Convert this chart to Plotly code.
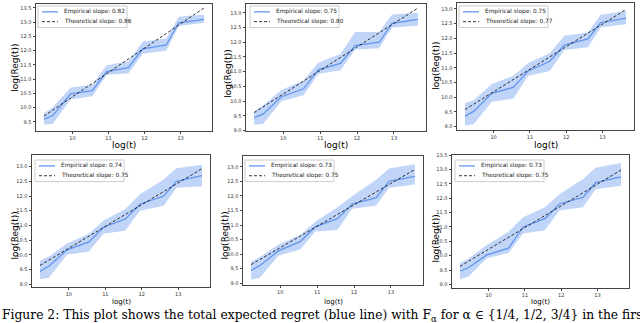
import plotly.graph_objects as go

# log(t) grid shared by all six panels
log_t = [9.21, 9.45, 9.95, 10.55, 10.95, 11.55, 11.95, 12.6, 12.95, 13.65]
theo_x = [9.21, 13.65]

# empirical mean, lower / upper band, theoretical line end points
emp_1 = [9.59, 9.71, 10.48, 10.59, 11.26, 11.40, 12.06, 12.20, 12.98, 13.10]
lo_1 = [9.40, 9.42, 10.28, 10.40, 11.15, 11.20, 11.89, 12.00, 12.87, 12.98]
hi_1 = [9.79, 10.00, 10.70, 10.80, 11.49, 11.63, 12.32, 12.43, 13.19, 13.27]
theo_1 = [9.70, 13.50]

emp_2 = [9.44, 9.56, 10.15, 10.42, 11.06, 11.28, 11.89, 12.00, 12.64, 12.78]
lo_2 = [9.20, 9.22, 10.00, 10.20, 10.92, 11.05, 11.75, 11.80, 12.50, 12.56]
hi_2 = [9.66, 9.85, 10.38, 10.70, 11.30, 11.60, 12.35, 12.35, 12.94, 13.00]
theo_2 = [9.61, 13.16]

emp_3 = [9.36, 9.52, 10.13, 10.34, 10.89, 11.22, 11.77, 11.98, 12.53, 12.69]
lo_3 = [9.03, 9.08, 9.85, 9.96, 10.73, 10.89, 11.60, 11.70, 12.37, 12.48]
hi_3 = [9.80, 9.90, 10.45, 10.73, 11.16, 11.49, 12.09, 12.20, 12.80, 12.93]
theo_3 = [9.58, 12.98]

emp_4 = [9.44, 9.61, 10.17, 10.44, 10.94, 11.22, 11.72, 12.00, 12.50, 12.69]
lo_4 = [9.17, 9.22, 10.00, 10.11, 10.72, 10.83, 11.50, 11.67, 12.28, 12.33]
hi_4 = [9.80, 9.94, 10.39, 10.72, 11.17, 11.56, 12.06, 12.56, 12.94, 13.06]
theo_4 = [9.64, 12.93]

emp_5 = [9.44, 9.61, 10.11, 10.44, 10.94, 11.22, 11.72, 11.94, 12.50, 12.67]
lo_5 = [9.11, 9.20, 9.94, 10.17, 10.78, 10.83, 11.56, 11.67, 12.28, 12.39]
hi_5 = [9.75, 9.90, 10.33, 10.67, 11.11, 11.61, 12.00, 12.56, 12.94, 13.09]
theo_5 = [9.64, 12.91]

emp_6 = [9.46, 9.59, 10.03, 10.26, 11.00, 11.29, 11.80, 12.03, 12.54, 12.74]
lo_6 = [9.17, 9.28, 9.91, 10.09, 10.77, 10.89, 11.57, 11.69, 12.31, 12.43]
hi_6 = [9.75, 9.90, 10.37, 10.83, 11.34, 11.69, 12.14, 12.66, 13.06, 13.23]
theo_6 = [9.63, 12.98]

emp_slopes = ['0.82', '0.75', '0.75', '0.74', '0.73', '0.73']
theo_slopes = ['0.86', '0.80', '0.77', '0.75', '0.75', '0.75']

W, H = 640, 323
# panel frames in pixels: left, right, top, bottom
frames = [(36, 212, 1, 130), (246, 426, 1, 130), (457, 634, -2, 129),
          (32, 210, 155, 289), (243, 423, 156, 287), (452, 629, 155, 290)]
yranges = [[9.19, 13.64], [9.0, 13.3], [8.9, 13.2],
           [8.92, 13.39], [8.95, 13.37], [8.89, 13.5]]
# legend box top-left corners (pixels)
leg_pos = [(38, 3), (250, 3), (459, 3), (35, 160), (245, 160), (455, 160)]
# y-label centres (pixels)
ylab_pos = [(15, 66), (228, 72), (436, 64), (15, 237), (225, 237), (436, 240)]

emps = [emp_1, emp_2, emp_3, emp_4, emp_5, emp_6]
los = [lo_1, lo_2, lo_3, lo_4, lo_5, lo_6]
his = [hi_1, hi_2, hi_3, hi_4, hi_5, hi_6]
theos = [theo_1, theo_2, theo_3, theo_4, theo_5, theo_6]

blue = '#6495ED'
band = 'rgba(100,149,237,0.4)'
font = 'DejaVu Sans'


def px(x, y):
    return x / W, 1 - y / H


fig = go.Figure()
layout = {}
annotations = []
shapes = []

for i in range(6):
    n = '' if i == 0 else str(i + 1)
    xa, ya = 'x' + n, 'y' + n
    l, r, t, b = frames[i]

    fig.add_trace(go.Scatter(x=log_t, y=los[i], mode='lines', line=dict(width=0),
                             showlegend=False, hoverinfo='skip', xaxis=xa, yaxis=ya))
    fig.add_trace(go.Scatter(x=log_t, y=his[i], mode='lines', line=dict(width=0),
                             fill='tonexty', fillcolor=band, showlegend=False,
                             hoverinfo='skip', xaxis=xa, yaxis=ya))
    fig.add_trace(go.Scatter(x=log_t, y=emps[i], mode='lines', line=dict(color=blue, width=1.3),
                             name='Empirical slope: ' + emp_slopes[i], showlegend=False,
                             xaxis=xa, yaxis=ya))
    fig.add_trace(go.Scatter(x=theo_x, y=theos[i], mode='lines',
                             line=dict(color='black', width=0.8, dash='3px,2px'),
                             name='Theoretical slope: ' + theo_slopes[i], showlegend=False,
                             xaxis=xa, yaxis=ya))

    axis_common = dict(showline=True, mirror=True, linecolor='#444', linewidth=1,
                       showgrid=False, zeroline=False, ticks='outside', ticklen=2.5,
                       tickwidth=0.6, tickcolor='#444',
                       tickfont=dict(family=font, size=5, color='#333'))
    layout['xaxis' + n] = dict(axis_common, domain=[l / W, r / W], range=[8.99, 13.87],
                               tickvals=[10, 11, 12, 13], anchor=ya)
    layout['yaxis' + n] = dict(axis_common, domain=[1 - b / H, min(1, 1 - t / H)],
                               range=yranges[i], dtick=0.5, tickformat='.1f', anchor=xa)

    # small matplotlib-style legend box
    lx, ly = leg_pos[i]
    x0, y0 = px(lx, ly)
    x1, y1 = px(lx + 89, ly + 22)
    shapes.append(dict(type='rect', xref='paper', yref='paper', x0=x0, y0=y1, x1=x1, y1=y0,
                       line=dict(color='#ccc', width=1), fillcolor='rgba(255,255,255,0.85)'))
    entries = [('Empirical slope: ' + emp_slopes[i], dict(color=blue, width=1.3)),
               ('Theoretical slope: ' + theo_slopes[i], dict(color='black', width=0.8, dash='3px,2px'))]
    for k, (label, ln) in enumerate(entries):
        yy = ly + 6 + 10 * k
        sx0, sy = px(lx + 4, yy)
        sx1, _ = px(lx + 20, yy)
        shapes.append(dict(type='line', xref='paper', yref='paper', x0=sx0, x1=sx1,
                           y0=sy, y1=sy, line=ln))
        tx, _ = px(lx + 24, yy)
        annotations.append(dict(xref='paper', yref='paper', x=tx, y=sy, text=label,
                                showarrow=False, xanchor='left', yanchor='middle',
                                font=dict(family=font, size=5.8, color='#222')))

    # axis titles
    cx = (l + r) / 2 / W
    if i < 3:
        annotations.append(dict(xref='paper', yref='paper', x=cx, y=1 - 145 / H,
                                text='log(t)', showarrow=False, xanchor='center', yanchor='middle',
                                font=dict(family=font, size=9, color='black')))
    else:
        annotations.append(dict(xref='paper', yref='paper', x=cx, y=1 - 305 / H,
                                text='log(t)', showarrow=False, xanchor='center', yanchor='middle',
                                font=dict(family=font, size=7, color='black')))
    yx, yy = ylab_pos[i]
    annotations.append(dict(xref='paper', yref='paper', x=yx / W, y=1 - yy / H,
                            text='log(Reg(t))', showarrow=False, textangle=-90,
                            xanchor='center', yanchor='middle',
                            font=dict(family=font, size=9, color='black')))

# caption, cut at the right edge like the page crop
annotations.append(dict(xref='paper', yref='paper', x=0, y=1 - 319 / H,
                        text='Figure 2: This plot shows the total expected regret (blue line) with '
                             'F<sub>α</sub> for α ∈ {1/4, 1/2, 3/4} in the first row, and',
                        showarrow=False, xanchor='left', yanchor='middle',
                        font=dict(family='DejaVu Serif', size=12.3, color='black')))

fig.update_layout(**layout)
fig.update_layout(
    width=W, height=H, autosize=False,
    margin=dict(l=0, r=0, t=0, b=0),
    plot_bgcolor='white', paper_bgcolor='white',
    showlegend=False,
    annotations=annotations,
    shapes=shapes,
)

# drop the browser's default body margin so the figure sits at the page corner
fig.write_html("out.html", config={'displayModeBar': False},
               post_script="document.body.style.margin='0';")
